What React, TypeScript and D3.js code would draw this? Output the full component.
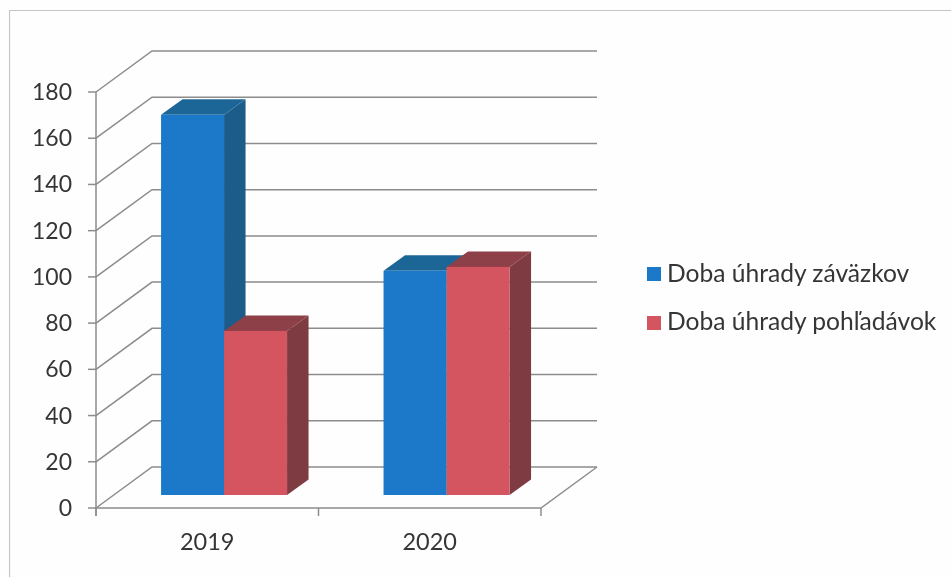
import React from "react";
import * as d3 from "d3";

const years = ["2019", "2020"];
const seriesNames = ["Doba úhrady záväzkov", "Doba úhrady pohľadávok"];
const payables = [164.5, 97];
const receivables = [71, 98.7];
const yTicks = [0, 20, 40, 60, 80, 100, 120, 140, 160, 180];

const palette = [
  { front: "#1b79c9", top: "#1f6697", side: "#1d5b8b" },
  { front: "#d4545f", top: "#8e3f48", side: "#7e3a43" },
];
const grid = "#8c8c8c";
const text = "#363636";
const font = "Lato, 'Open Sans', sans-serif";

const y0 = 508, yTop = 92, xL = 96, xR = 541;
const wallDx = 56, wallDy = -41;
const floorDy = -13, floorDx = 16.8;
const barDx = 21.5, barDy = -15.5;

export default function App() {
  const y = d3.scaleLinear().domain([0, 180]).range([y0, yTop]);
  const x = d3.scaleBand<string>().domain(years).range([xL, xR]);
  const barW = 63;
  const seriesVals = [payables, receivables];
  return (
    <svg width={951} height={577} style={{ position: "absolute", left: 0, top: 0, background: "#fefefe" }}>
      <defs>
        <filter id="scan" x="0" y="0" width="100%" height="100%">
          <feGaussianBlur stdDeviation={0.45} />
        </filter>
      </defs>
      <g filter="url(#scan)">
        <path d="M9.5,577V10.5H951" fill="none" stroke="#c4c4c4" strokeWidth={1.2} />
        {yTicks.map((t) => (
          <g key={t} stroke={grid} strokeWidth={1.5} fill="none">
            <path d={`M${xL},${y(t)}L${xL + wallDx},${y(t) + wallDy}H${xR + wallDx}`} />
            <path d={`M${xL - 8},${y(t)}H${xL}`} />
          </g>
        ))}
        <path d={`M${xL},${y(180)}V${y(0) + 8}`} stroke={grid} strokeWidth={1.5} />
        <path d={`M${xL},${y0}H${xR}L${xR + wallDx},${y0 + wallDy}`} stroke={grid} strokeWidth={1.5} fill="none" />
        {[...years.map((d) => x(d)!), xR].map((px) => (
          <path key={px} d={`M${px},${y0}V${y0 + 8}`} stroke={grid} strokeWidth={1.5} />
        ))}
        {yTicks.map((t) => (
          <text key={t} x={72} y={y(t)} dy="0.35em" textAnchor="end" fontFamily={font} fontSize={23} fill={text}>{t}</text>
        ))}
        {years.map((yr) => (
          <text key={yr} x={x(yr)! + x.bandwidth() / 2} y={550} textAnchor="middle" fontFamily={font} fontSize={23.5} fill={text}>{yr}</text>
        ))}
        {years.map((yr, i) => {
          const cx = x(yr)! + x.bandwidth() / 2 + floorDx;
          return seriesVals.map((vals, s) => {
            const bx = cx - barW + s * barW;
            const top = y(vals[i]) + floorDy;
            const base = y0 + floorDy;
            const c = palette[s];
            return (
              <g key={yr + s}>
                <path fill={c.side} d={`M${bx + barW},${top}l${barDx},${barDy}V${base + barDy}l${-barDx},${-barDy}Z`} />
                <path fill={c.top} d={`M${bx},${top}l${barDx},${barDy}h${barW}l${-barDx},${-barDy}Z`} />
                <rect x={bx} y={top} width={barW} height={base - top} fill={c.front} />
              </g>
            );
          });
        })}
        {seriesNames.map((n, i) => (
          <g key={n}>
            <rect x={647} y={267 + i * 49} width={14} height={14} fill={palette[i].front} />
            <text x={667} y={281.5 + i * 48} fontFamily={font} fontSize={24.6} fill={text}>{n}</text>
          </g>
        ))}
      </g>
    </svg>
  );
}
